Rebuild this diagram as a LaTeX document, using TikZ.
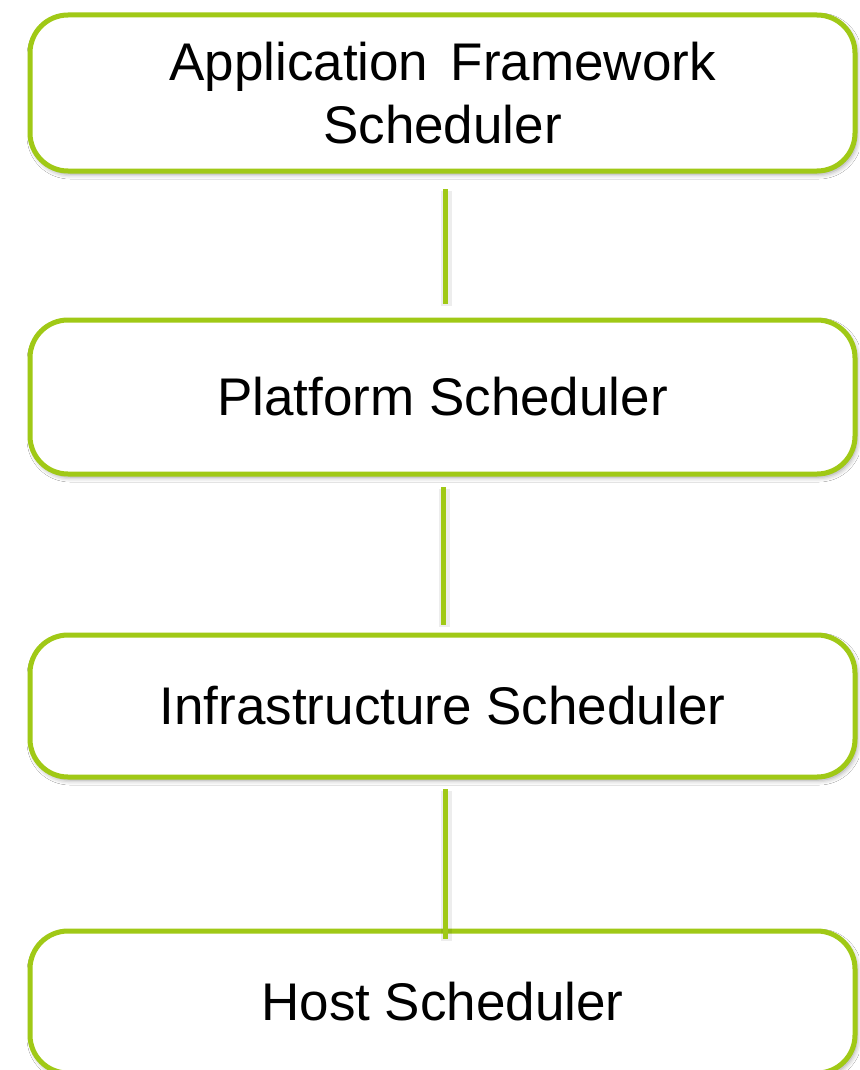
\documentclass[tikz,border=0pt]{standalone}
\usepackage{fontspec}
\setmainfont{Liberation Sans}
\usetikzlibrary{shadows.blur}
\definecolor{leaf}{RGB}{160,201,22}
\tikzset{
  x=1pt, y=-1pt,
  level/.style={draw=leaf, line width=5pt, fill=white, rounded corners=38pt,
    rectangle, minimum width=825pt, inner sep=0pt, align=center,
    font=\fontsize{53}{63}\selectfont,
    blur shadow={shadow xshift=2pt, shadow yshift=-3pt, shadow blur radius=5pt, shadow opacity=40}},
  link/.style={draw=leaf, line width=5pt,
    preaction={draw=black, opacity=0.07, line width=11pt, transform canvas={shift={(1.5pt,-2pt)}}}}
}
\begin{document}
\begin{tikzpicture}
\useasboundingbox (0,0) rectangle (859,1070);
\fill[white] (0,0) rectangle (859,1070);

% scheduler levels, top to bottom
\node[level, minimum height=156pt] (app)   at (442.5,93)
  {Application\hspace{0.42em}Framework\\Scheduler};
\node[level, minimum height=154pt] (plat)  at (442.5,397) {Platform Scheduler};
\node[level, minimum height=142pt] (infra) at (442.5,706) {Infrastructure Scheduler};
\node[level, minimum height=142pt] (host)  at (442.5,1002) {Host Scheduler};

% connector end points
\coordinate (l1a) at (445,189);
\coordinate (l1b) at (445,304);
\coordinate (l2a) at (443,487);
\coordinate (l2b) at (443,625);
\coordinate (l3a) at (445,789);
\coordinate (l3b) at (445,939);

\draw[link] (l1a) -- (l1b);
\draw[link] (l2a) -- (l2b);
\draw[link] (l3a) -- (l3b);
\end{tikzpicture}
\end{document}
